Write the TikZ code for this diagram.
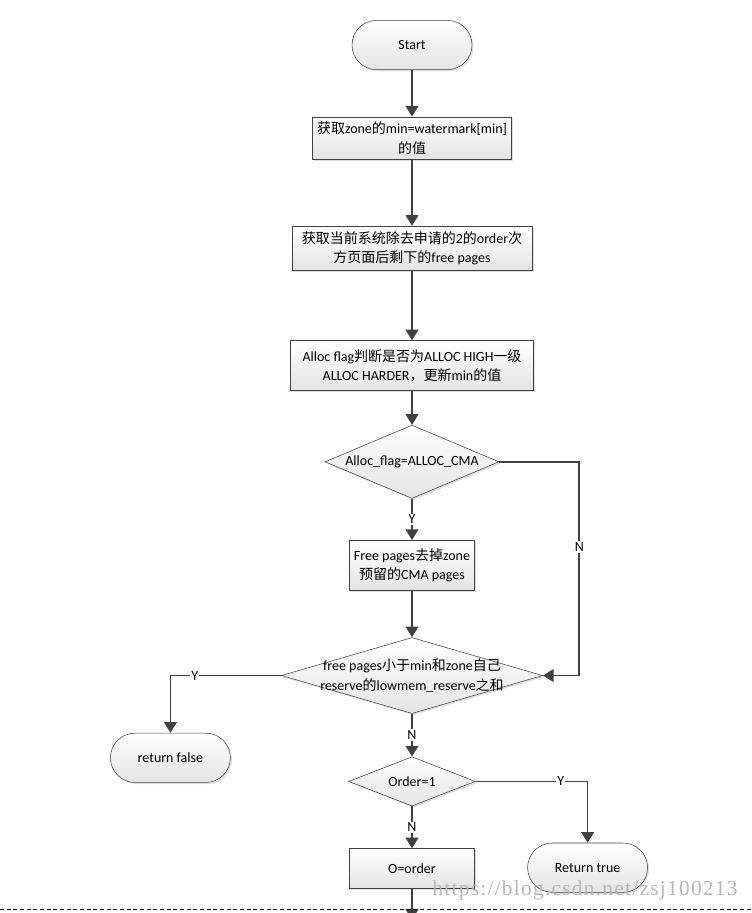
\documentclass[tikz,border=0pt]{standalone}
\usepackage{fontspec}
\setmainfont{Carlito}
\newfontfamily\zhfont{Noto Sans CJK SC}
\newfontfamily\wmfont[LetterSpace=6]{Liberation Serif}
\newcommand{\zh}[1]{{\zhfont #1}}
\usetikzlibrary{shapes.geometric,shapes.misc}
\usetikzlibrary{arrows.meta,positioning,calc,shadows}

\definecolor{linegray}{HTML}{404040}
\definecolor{boxgray}{HTML}{E4E4E4}

\begin{document}
\begin{tikzpicture}[
			x=0.75pt, y=-0.75pt,
			>={Triangle[width=9.5pt,length=8pt]},
			font=\fontsize{10.5}{14.5}\selectfont,
			process/.style={
				draw=linegray,
				thin,
				align=center,
				inner sep=2pt,
				top color=white,
				bottom color=boxgray,
				drop shadow={shadow xshift=1.2pt,shadow yshift=-1.2pt,opacity=0.25}
			},
			terminal/.style={
				process,
				rounded rectangle,
				minimum width=94pt,
				minimum height=37pt
			},
			decision/.style={
				process,
				diamond,
				inner sep=0pt
			},
			arrow/.style={
				->,
				draw=linegray,
				line width=1.3pt
			},
			lab/.style={
				fill=white,
				inner sep=1pt,
				font=\fontsize{10.5}{12}\selectfont
			}
			]
			
			\useasboundingbox (0,0) rectangle (752,913);
			
			% Main column
			\node[terminal] (start) at (412,45) {Start};
			\node[process,below=35pt of start,minimum width=149pt,minimum height=32pt] (zonemin)
			{\zh{获取}zone\zh{的}min=watermark[min]\\\zh{的值}};
			\node[process,below=49.5pt of zonemin,minimum width=180pt,minimum height=33pt] (freepg)
			{\zh{获取当前系统除去申请的}2\zh{的}order\zh{次}\\\zh{方页面后剩下的}free pages};
			\node[process,below=52.5pt of freepg,minimum width=182pt,minimum height=37.5pt] (allocflag)
			{Alloc flag\zh{判断是否为}ALLOC HIGH\zh{一级}\\ALLOC HARDER\zh{，更新}min\zh{的值}};
			\node[decision,below=25.5pt of allocflag,minimum width=130.5pt,minimum height=55pt,
			label={center:Alloc\_flag=ALLOC\_CMA}] (iscma) {};
			\node[process,below=31pt of iscma,minimum width=94pt,minimum height=37.5pt] (cmapg)
			{Free pages\zh{去掉}zone\\\zh{预留的}CMA pages};
			\node[decision,below=35pt of cmapg,minimum width=196pt,minimum height=57pt,
			label={[align=center]center:free pages\zh{小于}min\zh{和}zone\zh{自己}\\reserve\zh{的}lowmem\_reserve\zh{之和}}] (below) {};
			\node[decision,below=32pt of below,minimum width=95pt,minimum height=37pt,
			label={center:Order=1}] (ordone) {};
			\node[process,below=31.5pt of ordone,minimum width=94pt,minimum height=30pt] (oorder) {O=order};
			\coordinate (cut) at ($(oorder.south)+(0,31)$);
			
			% Results
			\node[terminal,anchor=north] (rfalse) at ([xshift=-83pt,yshift=-43pt]below.west) {return false};
			\node[terminal,anchor=north] (rtrue) at ([xshift=84pt,yshift=-46pt]ordone.east) {Return true};
			
			% Arrows down the column
			\draw[arrow] (start) -- (zonemin);
			\draw[arrow] (zonemin) -- (freepg);
			\draw[arrow] (freepg) -- (allocflag);
			\draw[arrow] (allocflag) -- (iscma);
			\draw[arrow] (iscma) -- node[lab] {Y} (cmapg);
			\draw[arrow] (cmapg) -- (below);
			\draw[arrow] (below) -- node[lab] {N} (ordone);
			\draw[arrow] (ordone) -- node[lab] {N} (oorder);
			\draw[arrow] (oorder) -- (cut);
			
			% Branches
			\draw[arrow] (iscma.east) -- ([xshift=60pt]iscma.east) |- node[lab,pos=0.2] {N} (below.east);
			\draw[arrow] (below.west) -| node[lab,pos=0.39] {Y} (rfalse.north);
			\draw[arrow] (ordone.east) -| node[lab,pos=0.38] {Y} (rtrue.north);
			
			% Page break
			\draw[dash pattern=on 3pt off 2pt,thin] (0,909) -- (752,909);
			\node[font=\wmfont\fontsize{16}{16}\selectfont,text=black!28] (mark) at (585,890) {https://blog.csdn.net/zsj100213};
			
		\end{tikzpicture}
\end{document}
